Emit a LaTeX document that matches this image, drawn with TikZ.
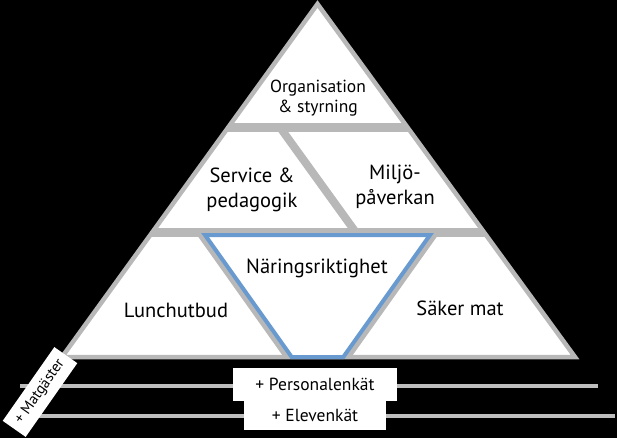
\documentclass[tikz,border=0pt]{standalone}
\usepackage{fontspec}
\setmainfont{PT Sans}
\definecolor{pgray}{RGB}{184,184,184}
\definecolor{lgray}{RGB}{190,190,190}
\definecolor{pblue}{RGB}{104,154,208}
\begin{document}
\begin{tikzpicture}[x=1pt,y=-1pt,
  lbl/.style={align=center,font=\fontsize{20.5}{25}\selectfont,text=black,inner sep=0pt},
  smalllbl/.style={align=center,font=\fontsize{17.5}{20}\selectfont,text=black,inner sep=0pt},
  box/.style={fill=white,text=black,inner sep=0pt,font=\fontsize{17.5}{20}\selectfont},
  sep/.style={pgray,line width=9pt},
  baseline/.style={lgray,line width=4pt}]
\fill[black] (0,0) rectangle (617,438);
\useasboundingbox (0,0) rectangle (617,438);
% outer pyramid
\coordinate (A) at (317.5,4);
\coordinate (BL) at (62,357);
\coordinate (BR) at (575,357);
\fill[white] (A)--(BL)--(BR)--cycle;
\begin{scope}
  \clip (A)--(BL)--(BR)--cycle;
  \draw[sep] (150,127.5) -- (480,127.5);
  \draw[sep] (100,232.5) -- (540,232.5);
  \draw[sep,line width=8pt] (280.1,127.5) -- (355.9,232.5);
  \draw[pgray,line width=5pt] (200,235) -- (286.7,357);
  \draw[pgray,line width=5pt] (435,235) -- (348.3,357);
\end{scope}
\draw[pgray,line width=4.5pt,line join=miter] (A)--(BL)--(BR)--cycle;
% Naringsriktighet trapezoid
\draw[pblue,fill=white,line width=4pt,line join=miter]
  (205,235) -- (430,235) -- (343.3,357) -- (291.7,357) -- cycle;
% labels
\node[smalllbl] (org) at (318,98) {Organisation\\\& styrning};
\node[lbl] (serv) at (252,190) {Service \&\\pedagogik};
\node[lbl] (milj) at (395,187) {Miljö-\\påverkan};
\node[lbl] (nar) at (317,268) {Näringsriktighet};
\node[lbl] (lunch) at (176,310) {Lunchutbud};
\node[lbl] (saker) at (460,308) {Säker mat};
% lines below
\coordinate (l1a) at (20,386);
\coordinate (l1b) at (598,386);
\coordinate (l2a) at (10,416);
\coordinate (l2b) at (615,416);
\draw[baseline] (l1a) -- (l1b);
\draw[baseline] (l2a) -- (l2b);
\node[box,minimum width=142pt,minimum height=29pt] (elev) at (315,415.5) {+ Elevenkät};
\node[box,minimum width=164pt,minimum height=33pt] (pers) at (315,384.5) {+ Personalenkät};
\node[box,rotate=55,minimum width=90pt,minimum height=28pt,font=\fontsize{15}{17}\selectfont] (mat) at (40,392) {+ Matgäster};
\end{tikzpicture}
\end{document}
